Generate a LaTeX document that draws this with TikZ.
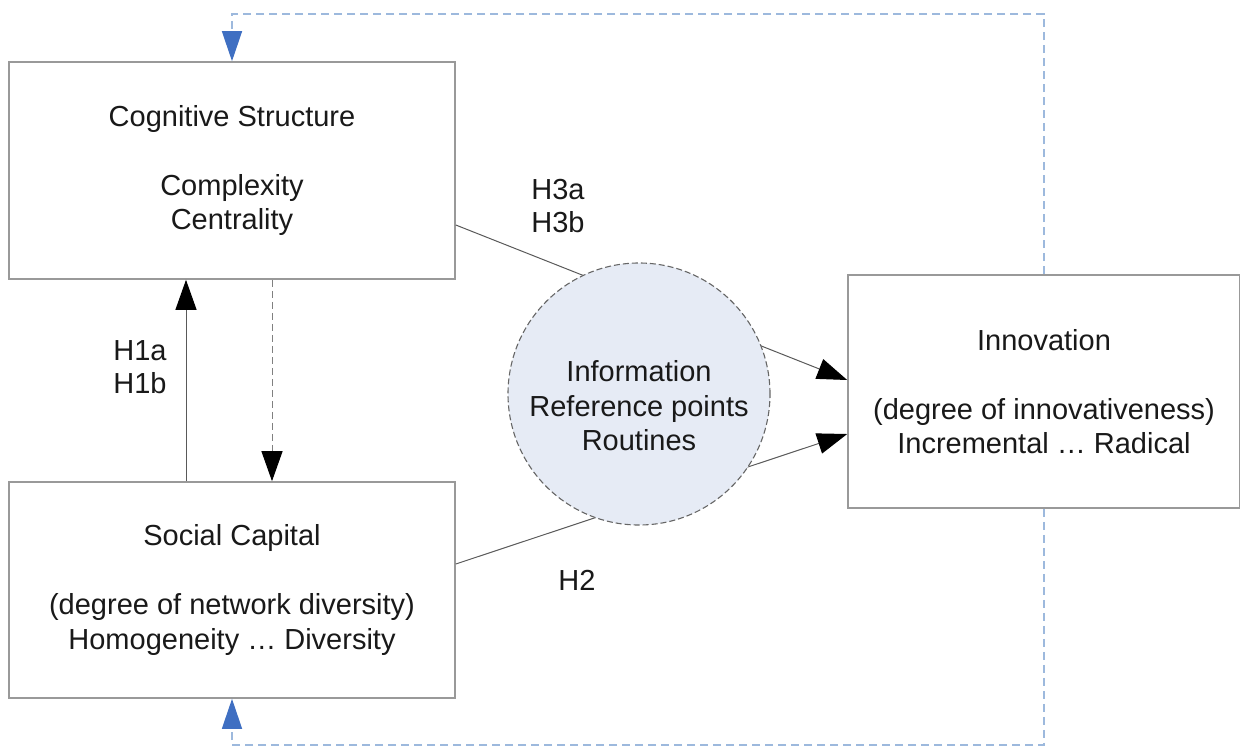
\documentclass[tikz,border=0pt]{standalone}
\usepackage{fontspec}
\setmainfont{Liberation Sans}
\usepackage{tikz}
\usetikzlibrary{positioning, arrows.meta}

\definecolor{fbblue}{HTML}{3F6FC2}
\definecolor{fbline}{HTML}{9DB9DD}
\definecolor{infofill}{HTML}{E6EBF5}

\begin{document}
\begin{tikzpicture}[
  x=1pt, y=-1pt,
  font=\fontsize{29}{34.5}\selectfont,
  box/.style={draw=black!40, line width=1.6pt, fill=white, align=center,
              inner sep=0pt, text=black!90},
  hyp/.style={align=left, inner sep=0pt, text=black!90,
              font=\fontsize{29}{33}\selectfont},
  ln/.style={draw=black!65, line width=1pt},
  arr/.style={ln, -{Triangle[length=30pt, width=21pt, color=black]}},
  darr/.style={arr, draw=black!50, dash pattern=on 7pt off 4pt},
  fb/.style={draw=fbline, line width=1.4pt, dash pattern=on 8pt off 5pt,
             -{Triangle[length=30pt, width=20pt, color=fbblue]}}
]
\useasboundingbox (0,0) rectangle (1240,748);

\node[box, minimum width=446pt, minimum height=217pt] (cog) at (232,170.5)
  {Cognitive Structure\\[34.5pt]Complexity\\Centrality};
\node[box, minimum width=446pt, minimum height=216pt] (soc) at (232,590)
  {Social Capital\\[34.5pt](degree of network diversity)\\Homogeneity \dots\ Diversity};
\node[box, minimum width=392pt, minimum height=233pt] (innov) at (1044,391.5)
  {Innovation\\[34.5pt](degree of innovativeness)\\Incremental \dots\ Radical};

% feedback loop
\coordinate (fbtop) at (232,14);
\coordinate (fbbot) at (232,745);
\draw[fb] (innov.north) |- (fbtop) -- (cog.north);
\draw[fb] (innov.south) |- (fbbot) -- (soc.south);

% hypotheses
\draw[arr] ([xshift=-46pt]soc.north) -- ([xshift=-46pt]cog.south);
\draw[darr] ([xshift=40pt]cog.south) -- ([xshift=40pt]soc.north);
\draw[arr] ([yshift=-54.5pt]cog.east) -- ([yshift=11.5pt]innov.west);
\draw[arr] ([yshift=26pt]soc.east) -- ([yshift=-42.5pt]innov.west);

\node[circle, draw=black!60, dash pattern=on 6pt off 3pt, line width=1.1pt,
      fill=infofill, minimum size=262pt, inner sep=0pt,
      label={[align=center, text=black!90, yshift=-12pt]center:Information\\Reference points\\Routines}]
  (info) at (639,394) {};

\node[hyp] (h1) at (140,367) {H1a\\H1b};
\node[hyp] (h3) at (558,206) {H3a\\H3b};
\node[hyp] (h2) at (577,580) {H2};
\end{tikzpicture}
\end{document}
